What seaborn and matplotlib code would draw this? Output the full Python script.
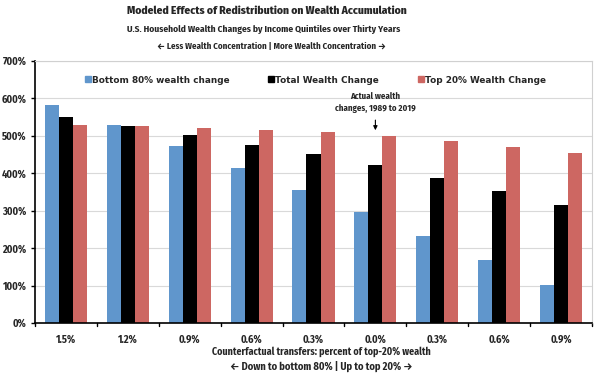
import matplotlib
matplotlib.use("Agg")
import matplotlib.pyplot as plt
import seaborn as sns
import pandas as pd
from matplotlib.lines import Line2D

categories = ["1.5%", "1.2%", "0.9%", "0.6%", "0.3%", "0.0%", "0.3% ", "0.6% ", "0.9% "]
tick_labels = ["1.5%", "1.2%", "0.9%", "0.6%", "0.3%", "0.0%", "0.3%", "0.6%", "0.9%"]
bottom80 = [582, 528, 472, 415, 356, 297, 233, 168, 102]
total = [550, 526, 502, 476, 451, 421, 388, 354, 316]
top20 = [529, 526, 521, 516, 510, 500, 487, 471, 453]
series_names = ["Bottom 80% wealth change", "Total Wealth Change", "Top 20% Wealth Change"]
colors = ["#6096cc", "#000000", "#cd6762"]

df = pd.DataFrame({
    "cat": categories * 3,
    "val": bottom80 + total + top20,
    "series": [series_names[0]] * 9 + [series_names[1]] * 9 + [series_names[2]] * 9,
})

sns.set_theme(style="white")
cond = ["Fira Sans Condensed", "Roboto Condensed", "DejaVu Sans"]
plt.rcParams["font.family"] = ["DejaVu Sans"]

fig = plt.figure(figsize=(6, 3.74), dpi=100)
ax = fig.add_axes([35/600, 1 - 323/374, 557/600, (323 - 61)/374])

sns.barplot(data=df, x="cat", y="val", hue="series", order=categories,
            hue_order=series_names, palette=colors, saturation=1,
            width=0.68, gap=0, linewidth=0, ax=ax, legend=False)

ax.set_ylim(0, 700)
ax.set_xlim(-0.5, 8.5)
ax.set_yticks(range(0, 701, 100))
ax.set_yticklabels([f"{v}%" for v in range(0, 701, 100)], family=cond,
                   fontweight="bold", fontsize=7.5)
ax.set_xticks(range(9))
ax.set_xticklabels(tick_labels, family=cond, fontweight="bold", fontsize=7.5)
ax.tick_params(axis="x", length=0, pad=8)
ax.tick_params(axis="y", length=3, direction="out", left=True, pad=3, width=1, color="black")
for b in [i + 0.5 for i in range(-1, 9)]:
    ax.plot([b, b], [0, -9], color="black", lw=1, clip_on=False)
ax.yaxis.grid(True, color="#d9d9d9", lw=0.8)
ax.set_axisbelow(True)
ax.set_xlabel("")
ax.set_ylabel("")
for s in ["top", "right"]:
    ax.spines[s].set_color("#d0d0d0")
    ax.spines[s].set_linewidth(0.8)
for s in ["left", "bottom"]:
    ax.spines[s].set_color("black")
    ax.spines[s].set_linewidth(1.2)

handles = [Line2D([0], [0], marker="s", linestyle="", markersize=4.5,
                  markerfacecolor=c, markeredgecolor=c) for c in colors]
leg = ax.legend(handles, series_names, loc="upper center", bbox_to_anchor=(0.503, 0.975),
                ncol=3, frameon=False, handletextpad=0.05, columnspacing=4.3,
                handlelength=0.8, prop={"family": "DejaVu Sans", "weight": "bold", "size": 6.4})

ax.annotate("Actual wealth\nchanges, 1989 to 2019", xy=(5, 515), xytext=(5, 562),
            ha="center", va="bottom", fontsize=6.3, fontweight="bold", family=cond,
            linespacing=1.35,
            arrowprops=dict(arrowstyle="-|>", color="black", lw=0.8, mutation_scale=6,
                            shrinkA=3, shrinkB=0))

fig.text(0.444, 1 - 11/374, "Modeled Effects of Redistribution on Wealth Accumulation",
         ha="center", va="center", fontsize=8.2, fontweight="heavy", family=cond)
fig.text(0.44, 1 - 29/374, "U.S. Household Wealth Changes by Income Quintiles over Thirty Years",
         ha="center", va="center", fontsize=6.8, fontweight="bold", family=cond)
fig.text(0.452, 1 - 46/374, "\u2190 Less Wealth Concentration | More Wealth Concentration \u2192",
         ha="center", va="center", fontsize=6.4, fontweight="bold", family=cond)
fig.text(0.536, 1 - 352/374, "Counterfactual transfers: percent of top-20% wealth",
         ha="center", va="center", fontsize=7.2, fontweight="bold", family=cond)
fig.text(0.535, 1 - 366/374, "\u2190 Down to bottom 80% | Up to top 20% \u2192",
         ha="center", va="center", fontsize=7.5, fontweight="bold", family=cond)

fig.savefig("out.png", dpi=100, facecolor="white")
